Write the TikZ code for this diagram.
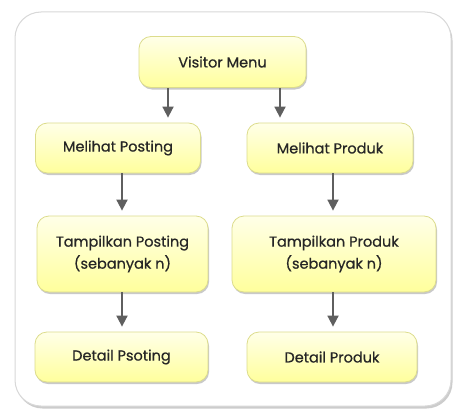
\documentclass[tikz,border=0pt]{standalone}
\usepackage{fontspec}
\setmainfont{Poppins}[FakeBold=0.6]
\usetikzlibrary{arrows.meta,shadows,calc}
\definecolor{boxtop}{HTML}{FFFFE8}
\definecolor{boxbot}{HTML}{FFFF9C}
\definecolor{boxline}{HTML}{DCDC8C}
\definecolor{arrgray}{HTML}{5F5F5F}
\definecolor{panelline}{HTML}{D8D8D8}
\begin{document}
\begin{tikzpicture}[x=1pt,y=-1pt,
  flowbox/.style={rectangle, rounded corners=12pt, draw=boxline, line width=0.8pt,
    top color=boxtop, bottom color=boxbot, align=center, inner sep=0pt,
    font=\fontsize{14.5}{22}\selectfont, text=black!85,
    drop shadow={opacity=0.35, shadow xshift=1pt, shadow yshift=-2pt, fill=black!60}},
  arr/.style={draw=arrgray, line width=1.8pt, -{Triangle[length=11pt,width=11pt]}, shorten >=5pt}]
\useasboundingbox (0,0) rectangle (454,412);
\fill[white] (0,0) rectangle (454,412);
% panel
\node[draw=panelline, fill=white, rounded corners=26pt, line width=1pt,
  minimum width=436pt, minimum height=394pt, inner sep=0pt,
  drop shadow={opacity=0.4, shadow xshift=1.5pt, shadow yshift=-2.5pt, fill=black!50}]
  (panel) at (233,209) {};
% nodes
\node[flowbox, minimum width=167pt, minimum height=51pt] (vm) at (222.5,62) {Visitor Menu};
\node[flowbox, minimum width=165pt, minimum height=50pt] (mp) at (118,148) {Melihat Posting};
\node[flowbox, minimum width=166pt, minimum height=50pt] (mpr) at (330,148) {Melihat Produk};
\node[flowbox, minimum width=171pt, minimum height=76pt] (tp) at (122.5,254) {Tampilkan Posting\\(sebanyak n)};
\node[flowbox, minimum width=204pt, minimum height=76pt] (tpr) at (334,254) {Tampilkan Produk\\(sebanyak n)};
\node[flowbox, minimum width=173pt, minimum height=50pt] (dp) at (121.5,357) {Detail Psoting};
\node[flowbox, minimum width=170pt, minimum height=50pt] (dpr) at (332,357) {Detail Produk};
% arrow columns
\coordinate (c1) at (168,0);
\coordinate (c2) at (280,0);
\coordinate (c3) at (122,0);
\coordinate (c4) at (333,0);
\draw[arr] (vm.south -| c1) -- (mp.north -| c1);
\draw[arr] (vm.south -| c2) -- (mpr.north -| c2);
\draw[arr] (mp.south -| c3) -- (tp.north -| c3);
\draw[arr] (mpr.south -| c4) -- (tpr.north -| c4);
\draw[arr] (tp.south -| c3) -- (dp.north -| c3);
\draw[arr] (tpr.south -| c4) -- (dpr.north -| c4);
\end{tikzpicture}
\end{document}
